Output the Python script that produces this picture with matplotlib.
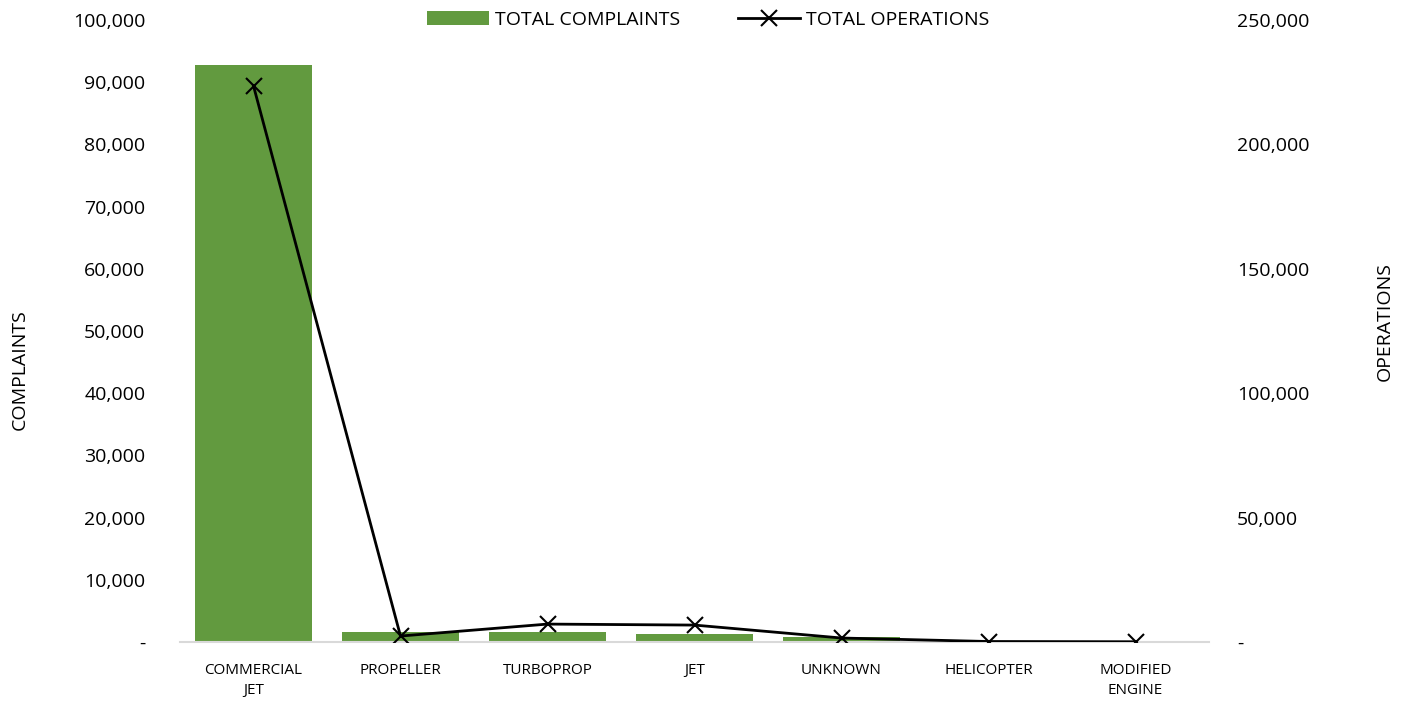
import matplotlib.pyplot as plt
from matplotlib.ticker import FuncFormatter

categories = ["COMMERCIAL\nJET", "PROPELLER", "TURBOPROP", "JET",
              "UNKNOWN", "HELICOPTER", "MODIFIED\nENGINE"]
complaints = [92800, 1600, 1550, 1300, 800, 200, 50]
operations = [223500, 2400, 7200, 6800, 1600, 200, 100]

green = "#629A3F"
font = "Open Sans"
W, H = 1414, 702


def fmt(v, pos):
    # Excel accounting style: zero shown as a dash
    return "-" if v == 0 else f"{v:,.0f}"


fig = plt.figure(figsize=(W / 100, H / 100), dpi=100)
ax = fig.add_axes([180 / W, 1 - 642 / H, 1029 / W, 622 / H])
ax2 = ax.twinx()

x = range(len(categories))
bars = ax.bar(x, complaints, width=0.8, color=green, label="TOTAL COMPLAINTS", zorder=2)
line, = ax2.plot(x, operations, color="black", linewidth=2, marker="x",
                 markersize=11, markeredgewidth=1.5, label="TOTAL OPERATIONS", zorder=3)

ax.set_xlim(-0.5, len(categories) - 0.5)
ax.set_ylim(0, 100000)
ax.set_yticks(range(0, 100001, 10000))
ax2.set_ylim(0, 250000)
ax2.set_yticks(range(0, 250001, 50000))
ax.yaxis.set_major_formatter(FuncFormatter(fmt))
ax2.yaxis.set_major_formatter(FuncFormatter(fmt))

ax.set_xticks(list(x))
ax.set_xticklabels(categories, fontsize=11, family=font, linespacing=1.45)

for a in (ax, ax2):
    for s in a.spines.values():
        s.set_visible(False)
    a.tick_params(length=0)
ax.spines["bottom"].set_visible(True)
ax.spines["bottom"].set_color("#D9D9D9")
ax.spines["bottom"].set_linewidth(1.5)
ax.tick_params(axis="x", pad=15)
ax.tick_params(axis="y", pad=25, labelsize=14)
ax2.tick_params(axis="y", pad=20, labelsize=14)
for lbl in ax.get_yticklabels() + ax2.get_yticklabels():
    lbl.set_family(font)

fig.text(20 / W, 1 - 370 / H, "COMPLAINTS", rotation=90, ha="center", va="center",
         fontsize=14, family=font)
fig.text(1385 / W, 1 - 322 / H, "OPERATIONS", rotation=90, ha="center", va="center",
         fontsize=14, family=font)

fig.legend(handles=[bars, line], loc="center", bbox_to_anchor=(708 / W, 1 - 20 / H),
           ncol=2, frameon=False, prop={"family": font, "size": 14},
           handlelength=3.2, handleheight=0.7, columnspacing=3, handletextpad=0.3)

fig.savefig("out.png", dpi=100)
